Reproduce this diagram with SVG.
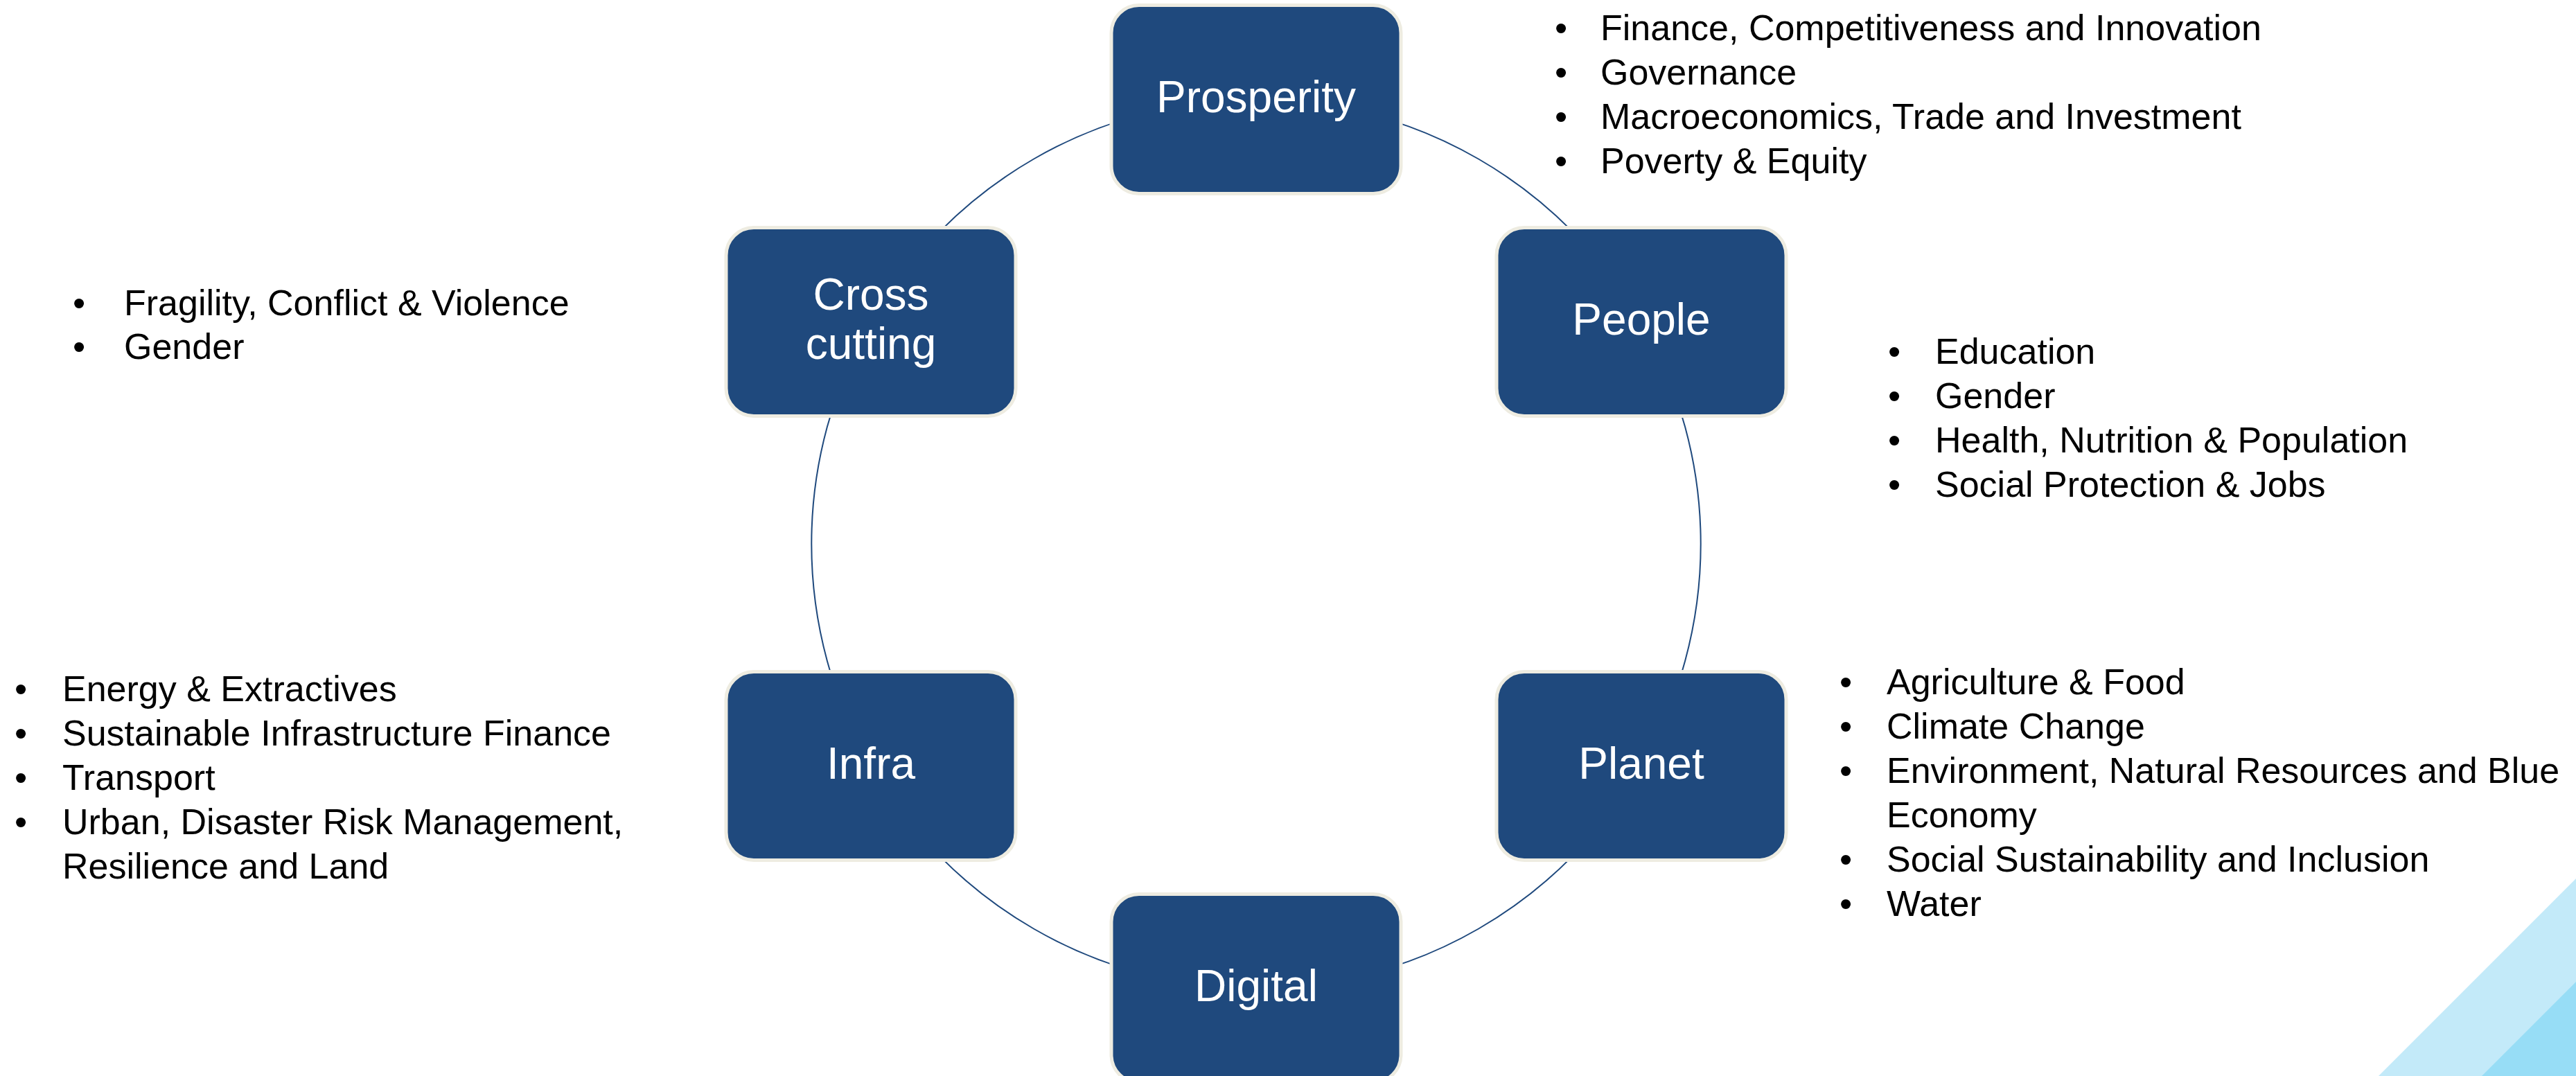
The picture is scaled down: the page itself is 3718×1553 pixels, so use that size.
<svg xmlns="http://www.w3.org/2000/svg" width="3718" height="1553" viewBox="0 0 3718 1553">
<style>
.box{fill:#1F497D;stroke:#EEECE1;stroke-width:5}
.lbl{font-family:"Liberation Sans",Arial,sans-serif;font-size:64px;fill:#FFFFFF;text-anchor:middle}
.li{font-family:"Liberation Sans",Arial,sans-serif;font-size:52px;fill:#000000}
.conn{fill:none;stroke:#1F497D;stroke-width:2}
</style>
<rect x="0" y="0" width="3718" height="1553" fill="#FFFFFF"/>
<g id="decor">
<polygon points="3433,1553 3718,1268 3718,1553" fill="#C3EAF9"/>
<polygon points="3582,1553 3718,1417 3718,1553" fill="#97DDF6"/>
</g>
<g id="connectors">
<path class="conn" d="M1813,143.5 A642,642 0 0 1 2369,464.5"/>
<path class="conn" d="M2369,464.5 A642,642 0 0 1 2369,1105.5"/>
<path class="conn" d="M2369,1105.5 A642,642 0 0 1 1813,1426.5"/>
<path class="conn" d="M1813,1426.5 A642,642 0 0 1 1257,1105.5"/>
<path class="conn" d="M1257,1105.5 A642,642 0 0 1 1257,464.5"/>
<path class="conn" d="M1257,464.5 A642,642 0 0 1 1813,143.5"/>
</g>
<g id="node-prosperity">
<rect class="box" x="1604" y="7.5" width="418" height="272" rx="40"/>
<text class="lbl" x="1813" y="161.5">Prosperity</text>
</g>
<g id="node-people">
<rect class="box" x="2160" y="328.5" width="418" height="272" rx="40"/>
<text class="lbl" x="2369" y="482.5">People</text>
</g>
<g id="node-planet">
<rect class="box" x="2160" y="969.5" width="418" height="272" rx="40"/>
<text class="lbl" x="2369" y="1123.5">Planet</text>
</g>
<g id="node-digital">
<rect class="box" x="1604" y="1290.5" width="418" height="272" rx="40"/>
<text class="lbl" x="1813" y="1444.5">Digital</text>
</g>
<g id="node-infra">
<rect class="box" x="1048" y="969.5" width="418" height="272" rx="40"/>
<text class="lbl" x="1257" y="1123.5">Infra</text>
</g>
<g id="node-crosscutting">
<rect class="box" x="1048" y="328.5" width="418" height="272" rx="40"/>
<text class="lbl" x="1257" y="447">Cross</text>
<text class="lbl" x="1257" y="518">cutting</text>
</g>
<g id="list-prosperity">
<text class="li" x="2244" y="58">•</text><text class="li" x="2310" y="58">Finance, Competitiveness and Innovation</text>
<text class="li" x="2244" y="122">•</text><text class="li" x="2310" y="122">Governance</text>
<text class="li" x="2244" y="186">•</text><text class="li" x="2310" y="186">Macroeconomics, Trade and Investment</text>
<text class="li" x="2244" y="250">•</text><text class="li" x="2310" y="250">Poverty &amp; Equity</text>
</g>
<g id="list-crosscutting">
<text class="li" x="105" y="455">•</text><text class="li" x="179" y="455">Fragility, Conflict &amp; Violence</text>
<text class="li" x="105" y="518">•</text><text class="li" x="179" y="518">Gender</text>
</g>
<g id="list-people">
<text class="li" x="2725" y="525">•</text><text class="li" x="2793" y="525">Education</text>
<text class="li" x="2725" y="589">•</text><text class="li" x="2793" y="589">Gender</text>
<text class="li" x="2725" y="653">•</text><text class="li" x="2793" y="653">Health, Nutrition &amp; Population</text>
<text class="li" x="2725" y="717">•</text><text class="li" x="2793" y="717">Social Protection &amp; Jobs</text>
</g>
<g id="list-planet">
<text class="li" x="2655" y="1002">•</text><text class="li" x="2723" y="1002">Agriculture &amp; Food</text>
<text class="li" x="2655" y="1066">•</text><text class="li" x="2723" y="1066">Climate Change</text>
<text class="li" x="2655" y="1130">•</text><text class="li" x="2723" y="1130">Environment, Natural Resources and Blue</text>
<text class="li" x="2723" y="1194">Economy</text>
<text class="li" x="2655" y="1258">•</text><text class="li" x="2723" y="1258">Social Sustainability and Inclusion</text>
<text class="li" x="2655" y="1322">•</text><text class="li" x="2723" y="1322">Water</text>
</g>
<g id="list-infra">
<text class="li" x="21" y="1012">•</text><text class="li" x="90" y="1012">Energy &amp; Extractives</text>
<text class="li" x="21" y="1076">•</text><text class="li" x="90" y="1076">Sustainable Infrastructure Finance</text>
<text class="li" x="21" y="1140">•</text><text class="li" x="90" y="1140">Transport</text>
<text class="li" x="21" y="1204">•</text><text class="li" x="90" y="1204">Urban, Disaster Risk Management,</text>
<text class="li" x="90" y="1268">Resilience and Land</text>
</g>
</svg>
